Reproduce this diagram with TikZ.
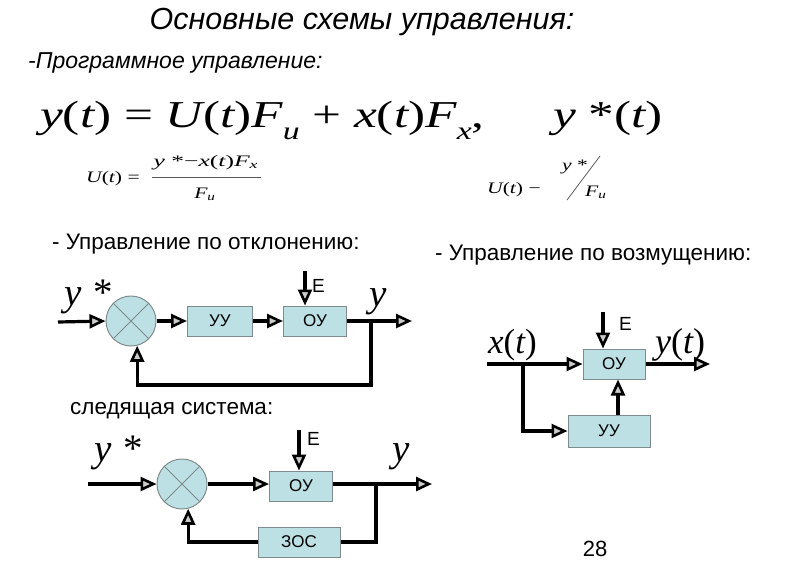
\documentclass[tikz,border=0pt]{standalone}
\usepackage{fontspec}
\usepackage{graphicx}
\setmainfont{Liberation Sans}
\newfontfamily\tms{Liberation Serif}
\usetikzlibrary{arrows.meta}
\definecolor{boxfill}{HTML}{BCE0E4}
\definecolor{boxline}{HTML}{7F8C8D}
\newcommand{\mi}[1]{{\itshape #1}}
\newcommand{\bigsub}[1]{\raisebox{-0.32em}{\fontsize{25}{25}\selectfont\itshape #1}}
\newcommand{\wide}[1]{\scalebox{1.35}[1]{#1}}
\begin{document}
\begin{tikzpicture}[x=1pt,y=-1pt,
  blk/.style={draw=boxline, line width=1pt, fill=boxfill, minimum width=#1,
    minimum height=30pt, inner sep=0pt, font=\fontsize{17}{17}\selectfont},
  blk/.default=64pt,
  sumc/.style={circle, draw=boxline, line width=1pt, fill=boxfill,
    minimum size=50pt, inner sep=0pt},
  cross/.style={draw=boxline, line width=1pt},
  ln/.style={line width=3.2pt, line join=miter},
  arr/.style={ln, -{Triangle[length=16pt,width=14pt,line width=2.6pt,fill=gray!40]}},
  txt/.style={inner sep=0pt, font=\fontsize{22.5}{26}\selectfont},
  mathlbl/.style={inner sep=0pt, font=\tms\fontsize{39}{40}\selectfont},
  elbl/.style={inner sep=0pt, font=\fontsize{19}{19}\selectfont},
  sm/.style={inner sep=0pt, anchor=base west, font=\tms\fontsize{16}{16}\selectfont},
]
\useasboundingbox (0,0) rectangle (800,582);

% titles
\node[inner sep=0pt, font=\fontsize{30.5}{34}\selectfont\itshape] (title) at (362,22) {Основные схемы управления:};
\node[inner sep=0pt, anchor=west, font=\fontsize{23}{26}\selectfont\itshape] (sub1) at (28,63) {-Программное управление:};

% formulas
\node[inner sep=0pt, anchor=base west, font=\tms\fontsize{38}{40}\selectfont] (eq1) at (40,127)
  {\wide{\mi{y}(\mi{t}) = \mi{U}(\mi{t})\mi{F}\bigsub{u} + \mi{x}(\mi{t})\mi{F}\bigsub{x},}};
\node[inner sep=0pt, anchor=base west, font=\tms\fontsize{38}{40}\selectfont] (eq2) at (553,127)
  {\wide{\mi{y} *(\mi{t})}};
% left small formula (manual fraction)
\node[sm] (eq3a) at (86,182) {\wide{\mi{U}(\mi{t}) =}};
\node[sm, anchor=base] (eq3n) at (206,166) {\scalebox{1.6}[1]{\mi{y} *−\mi{x}(\mi{t})\mi{F}\textsubscript{\mi{x}}}};
\node[sm, anchor=base] (eq3d) at (205,198) {\wide{\mi{F}\textsubscript{\mi{u}}}};
\coordinate (fr1) at (152,177);
\coordinate (fr2) at (261,177);
\draw[line width=0.8pt, gray!70!black] (fr1) -- (fr2);
% right small formula
\node[sm] (eq4a) at (487,193) {\wide{\mi{U}(\mi{t}) −}};
\node[sm] (eq4b) at (562,170) {\wide{\mi{y} *}};
\node[sm] (eq4c) at (585,196) {\wide{\mi{F}\textsubscript{\mi{u}}}};
\coordinate (sl1) at (567,200);
\coordinate (sl2) at (600,156);
\draw[line width=0.8pt, gray!70!black] (sl1) -- (sl2);

% section labels
\node[txt, anchor=west] (h1) at (52,244) {- Управление по отклонению:};
\node[txt, anchor=west] (h2) at (435,255) {- Управление по возмущению:};
\node[txt, anchor=west] (h3) at (70,411) {следящая система:};
\node[txt, font=\fontsize{22}{24}\selectfont] (pg) at (595,549) {28};

% ---------- diagram 1: deviation ----------
\node[sumc] (s1) at (131,321) {};
\draw[cross] (s1.north west) -- (s1.south east) (s1.north east) -- (s1.south west);
\node[blk=65pt] (uu1) at (220,321) {УУ};
\node[blk=63pt] (ou1) at (315,321) {ОУ};
\coordinate (in1) at (58,322);
\coordinate (out1) at (412,321);
\coordinate (br1) at (371,321);
\coordinate (fb1) at (371,385);
\coordinate (e1) at (305,271);
\draw[arr] (in1) -- (s1.west);
\draw[arr] (s1.east) -- (uu1.west);
\draw[arr] (uu1.east) -- (ou1.west);
\draw[arr] (ou1.east) -- (out1);
\draw[arr] (br1) -- (fb1) -| (s1.-76);
\draw[arr] (e1) -- (e1 |- ou1.north);
\node[mathlbl, anchor=base west] (ys1) at (64,305) {\mi{y}\hspace{12pt}*};
\node[mathlbl, anchor=base west] (y1) at (369,306) {\mi{y}};
\node[elbl, anchor=west] (E1) at (312,286) {E};

% ---------- diagram 2: disturbance ----------
\node[blk=62pt] (ou2) at (614,364) {ОУ};
\node[blk=82pt, minimum height=32pt] (uu2) at (609,431) {УУ};
\coordinate (in2) at (487,364);
\coordinate (br2) at (523,364);
\coordinate (out2) at (710,364);
\coordinate (e2) at (603,312);
\coordinate (c2) at (618,400);
\draw[arr] (in2) -- (ou2.west);
\draw[arr] (br2) |- (uu2.west);
\draw[arr] (ou2.east) -- (out2);
\draw[arr] (e2) -- (e2 |- ou2.north);
\draw[arr] (c2 |- uu2.north) -- (c2 |- ou2.south);
\node[mathlbl, anchor=base west, font=\tms\fontsize{35}{36}\selectfont] (x2) at (488,353) {\mi{x}(\mi{t})};
\node[mathlbl, anchor=base west, font=\tms\fontsize{36}{36}\selectfont] (y2) at (655,353) {\mi{y}(\mi{t})};
\node[elbl, anchor=west] (E2) at (619,324) {E};

% ---------- diagram 3: tracking system ----------
\node[sumc] (s3) at (182,484) {};
\draw[cross] (s3.north west) -- (s3.south east) (s3.north east) -- (s3.south west);
\node[blk=63pt] (ou3) at (301,486) {ОУ};
\node[blk=82pt] (zos) at (299,542) {ЗОС};
\coordinate (in3) at (88,484);
\coordinate (out3) at (432,484);
\coordinate (br3) at (376,484);
\coordinate (e3) at (299,430);
\draw[arr] (in3) -- (s3.west);
\draw[arr] (s3.east) -- (ou3.west |- s3.east);
\draw[arr] (ou3.east |- out3) -- (out3);
\draw[ln] (br3) |- (zos.east);
\draw[arr] (zos.west) -| (s3.-76);
\draw[arr] (e3) -- (e3 |- ou3.north);
\node[mathlbl, anchor=base west] (ys3) at (94,461) {\mi{y}\hspace{12pt}*};
\node[mathlbl, anchor=base west] (y3) at (392,461) {\mi{y}};
\node[elbl, anchor=west] (E3) at (307,439) {E};
\end{tikzpicture}
\end{document}
